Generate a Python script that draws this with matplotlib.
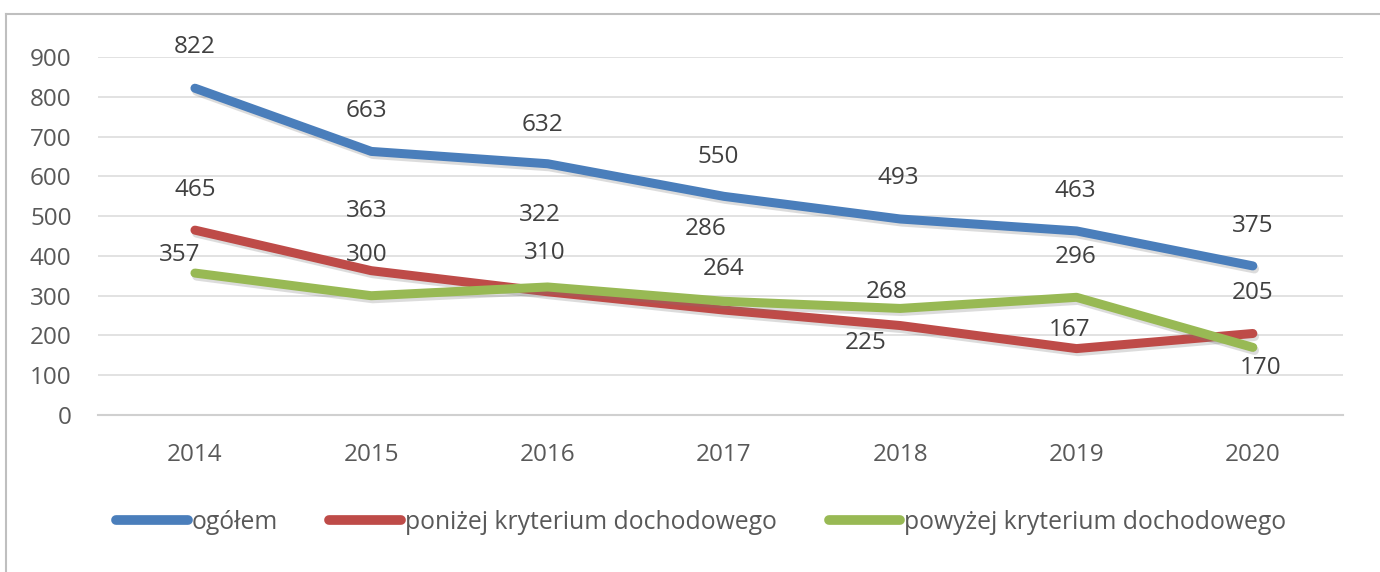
import matplotlib.pyplot as plt
import matplotlib.patheffects as pe
from matplotlib.lines import Line2D

plt.rcParams['font.family'] = ['Open Sans', 'DejaVu Sans']

years = ['2014', '2015', '2016', '2017', '2018', '2019', '2020']
ogolem = [822, 663, 632, 550, 493, 463, 375]
ponizej = [465, 363, 310, 264, 225, 167, 205]
powyzej = [357, 300, 322, 286, 268, 296, 170]
names = ['ogółem', 'poniżej kryterium dochodowego', 'powyżej kryterium dochodowego']
colors = ['#4A7EBB', '#BE4B48', '#98B954']

# label offsets in pixels (dx, dy) from each point
off_ogolem = [(0, 41), (-5, 40), (-5, 39), (-6, 39), (-2, 41), (-1, 40), (0, 40)]
off_ponizej = [(0, 40), (-5, 60), (-3, 39), (0, 41), (-35, -17), (-7, 19), (0, 40)]
off_powyzej = [(-15, 18), (-5, 41), (-8, 72), (-18, 72), (-14, 16), (-1, 40), (8, -21)]

fig = plt.figure(figsize=(13.8, 5.72), dpi=100)
ax = fig.add_axes([0.071, 0.2745, 0.902, 0.6255])

x = list(range(len(years)))
shadow = [pe.SimpleLineShadow(offset=(1.2, -2.2), shadow_color='#777777', alpha=0.25), pe.Normal()]
series = [ogolem, ponizej, powyzej]
offsets = [off_ogolem, off_ponizej, off_powyzej]
for vals, name, c, offs in zip(series, names, colors, offsets):
    ax.plot(x, vals, color=c, lw=6.5, solid_capstyle='round', solid_joinstyle='round',
            label=name, path_effects=shadow, zorder=3)
    for xi, v, (dx, dy) in zip(x, vals, offs):
        ax.annotate(str(v), (xi, v), xytext=(dx, dy), textcoords='offset pixels',
                    ha='center', va='center', fontsize=17.5, color='#404040', zorder=4)

ax.set_ylim(0, 900)
ax.set_xlim(-0.55, 6.51)
ax.set_yticks(range(0, 901, 100))
ax.set_xticks(x)
ax.set_xticklabels(years)
ax.grid(axis='y', color='#DDDDDD', lw=1.2)
ax.set_axisbelow(True)
for s in ['top', 'right', 'left']:
    ax.spines[s].set_visible(False)
ax.spines['bottom'].set_color('#D0D0D0')
ax.spines['bottom'].set_linewidth(1.5)
ax.tick_params(length=0, labelsize=17.5, labelcolor='#595959')
ax.tick_params(axis='y', pad=19)
ax.tick_params(axis='x', pad=20)

leg = fig.legend(loc='center', bbox_to_anchor=(0.508, 0.087), ncol=3, frameon=False,
                 fontsize=17.8, handlelength=2.9, handletextpad=0.15, columnspacing=2.1)
for t in leg.get_texts():
    t.set_color('#595959')
for h in leg.get_lines():
    h.set_linewidth(7)
    h.set_path_effects([])

# outer chart border (top and left)
fig.add_artist(Line2D([6 / 1380, 1.0], [1 - 14 / 572, 1 - 14 / 572], transform=fig.transFigure,
                      color='#BFBFBF', lw=1.5))
fig.add_artist(Line2D([6 / 1380, 6 / 1380], [0, 1 - 14 / 572], transform=fig.transFigure,
                      color='#BFBFBF', lw=1.5))

fig.savefig('out.png', dpi=100)
